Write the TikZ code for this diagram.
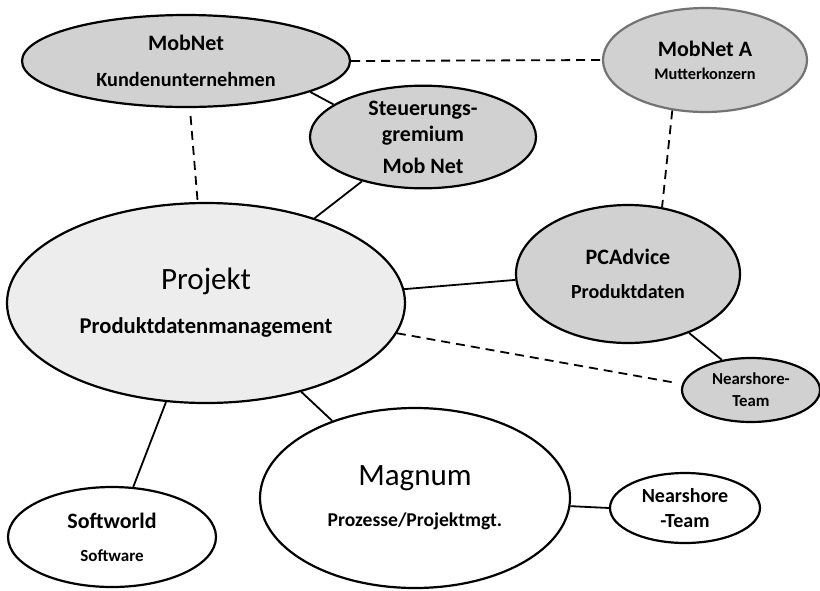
\documentclass[tikz,border=0pt]{standalone}
\usepackage{fontspec}
\setmainfont{Carlito}
\usetikzlibrary{shapes.geometric}
\newcommand*{\fs}[2]{\fontsize{#1}{#2}\selectfont}
\tikzset{
  blob/.style={ellipse,draw,line width=2.2pt,inner sep=0pt,align=center},
  lsk/.style={font=\bfseries\fs{20}{#1}},
  grey/.style={blob,fill=black!18},
  pale/.style={blob,fill=black!7},
  plain/.style={blob,fill=white},
  link/.style={line width=1.8pt},
  dlink/.style={link,dash pattern=on 9pt off 6pt}
}

\begin{document}
\begin{tikzpicture}[x=1pt,y=-1pt]
\useasboundingbox (0,0) rectangle (820,590);
% upper row
\node[grey,lsk=36,minimum width=328,minimum height=92] (mob) at (186,61)
  {\fs{22}{36}MobNet\\\fs{20.2}{36}Kundenunternehmen};
\node[grey,lsk=26,minimum width=226,minimum height=96] (steuer) at (423,137)
  {\fs{22}{26}Steuerungs-\\\fs{22}{26}gremium\\[6pt]\fs{22}{26}Mob Net};
\node[grey,lsk=23,draw=black!55,minimum width=204,minimum height=104] (mobA) at (705,60)
  {\fs{22}{23}MobNet A\\\fs{16.3}{23}Mutterkonzern};
% middle
\node[pale,lsk=44,minimum width=398,minimum height=200] (proj) at (206,303)
  {\fs{31}{44}\mdseries Projekt\\\fs{22.6}{44}Produktdatenmanagement};
\node[grey,lsk=34,minimum width=224,minimum height=138] (pca) at (628,274)
  {\fs{22}{34}PCAdvice\\\fs{20}{34}Produktdaten};
\node[grey,lsk=22,minimum width=138,minimum height=64] (nsA) at (751,390)
  {\fs{16.8}{22}Nearshore-\\\fs{16.8}{22}Team};
% lower row
\node[plain,lsk=41,minimum width=310,minimum height=180] (mag) at (415,498)
  {\fs{31}{41}\mdseries Magnum\\\fs{19.6}{41}Prozesse/Projektmgt.};
\node[plain,lsk=25,minimum width=150,minimum height=70] (nsB) at (685,508)
  {\fs{20}{25}Nearshore\\\fs{20}{25}-Team};
\node[plain,lsk=33,minimum width=208,minimum height=100] (soft) at (112,537)
  {\fs{22}{33}Softworld\\\fs{17}{33}Software};
% connectors
\draw[dlink] (mob.east) -- (mobA.west);
\draw[dlink,shorten <=8pt] (mob) -- (proj);
\draw[dlink] (mobA.-123) -- (pca.63);
\draw[dlink,shorten >=7pt] (proj.-9) -- (nsA.175);
\draw[link] (mob.-14) -- (steuer.160);
\draw[link] (steuer.216) -- (proj.38);
\draw[link] (proj.4) -- (pca.183);
\draw[link] (pca.-44) -- (nsA.134);
\draw[link] (proj.-43) -- (mag.137);
\draw[link] (proj.-112) -- (soft.67);
\draw[link] (mag.-3) -- (nsB.180);
\end{tikzpicture}
\end{document}
